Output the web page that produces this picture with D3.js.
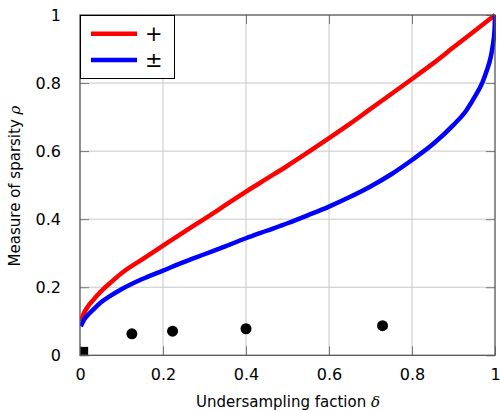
<!DOCTYPE html>
<html>
<head>
<meta charset="utf-8">
<script src="https://cdn.jsdelivr.net/npm/d3@7"></script>
<style>
  html, body { margin: 0; padding: 0; background: #fff; }
  svg { display: block; }
  text { font-family: "DejaVu Sans", sans-serif; fill: #000; }
</style>
</head>
<body>
<svg id="chart" width="500" height="411"></svg>
<script>
// ---- data ----
const deltaPlus = [0.002, 0.01, 0.02, 0.03, 0.05, 0.075, 0.1, 0.15, 0.2, 0.25, 0.3, 0.35, 0.4, 0.45, 0.5, 0.55, 0.6, 0.65, 0.7, 0.75, 0.8, 0.85, 0.9, 0.95, 1.0];
const rhoPlus   = [0.10, 0.125, 0.145, 0.16, 0.187, 0.215, 0.241, 0.282, 0.322, 0.362, 0.401, 0.441, 0.481, 0.519, 0.557, 0.597, 0.638, 0.68, 0.724, 0.768, 0.812, 0.857, 0.905, 0.952, 1.0];
const deltaPM   = [0.002, 0.01, 0.02, 0.03, 0.05, 0.075, 0.1, 0.15, 0.2, 0.25, 0.3, 0.35, 0.4, 0.45, 0.5, 0.55, 0.6, 0.65, 0.7, 0.75, 0.8, 0.85, 0.9, 0.93, 0.95, 0.97, 0.98, 0.99, 0.995, 0.999, 1.0];
const rhoPM     = [0.085, 0.105, 0.12, 0.132, 0.155, 0.176, 0.194, 0.224, 0.249, 0.274, 0.297, 0.32, 0.344, 0.366, 0.388, 0.412, 0.437, 0.465, 0.496, 0.532, 0.574, 0.62, 0.677, 0.718, 0.757, 0.803, 0.836, 0.878, 0.913, 0.958, 1.0];
const dotDelta  = [0.125, 0.223, 0.40, 0.729];
const dotRho    = [0.063, 0.071, 0.078, 0.087];
const squareDelta = [0.01];
const squareRho   = [0.013];
const tickValues = [0, 0.2, 0.4, 0.6, 0.8, 1];
const tickLabels = ["0", "0.2", "0.4", "0.6", "0.8", "1"];
const legendLabels = ["+", "±"];
const seriesColors = ["#ff0000", "#0000ff"];
const xTitle = "Undersampling faction ";
const yTitle = "Measure of sparsity ";

// ---- layout ----
const L = 80, R = 495, T = 15, B = 355.3;
const svg = d3.select("#chart");
const x = d3.scaleLinear().domain([0, 1]).range([L, R]);
const y = d3.scaleLinear().domain([0, 1]).range([B, T]);

// grid
const grid = svg.append("g");
grid.selectAll("line.vx").data(tickValues.slice(1, -1)).join("line")
  .attr("x1", d => x(d)).attr("x2", d => x(d)).attr("y1", T).attr("y2", B)
  .attr("stroke", "#c8c8c8").attr("stroke-width", 1);
grid.selectAll("line.hy").data(tickValues.slice(1, -1)).join("line")
  .attr("y1", d => y(d)).attr("y2", d => y(d)).attr("x1", L).attr("x2", R)
  .attr("stroke", "#c8c8c8").attr("stroke-width", 1);

// axes with inward ticks
const tl = 9;
const fmt = d => tickLabels[tickValues.indexOf(d)];
const axB = svg.append("g").attr("transform", `translate(0,${B})`)
  .call(d3.axisBottom(x).tickValues(tickValues).tickFormat(fmt).tickSizeInner(-tl).tickSizeOuter(0).tickPadding(13));
const axT = svg.append("g").attr("transform", `translate(0,${T})`)
  .call(d3.axisTop(x).tickValues(tickValues).tickFormat("").tickSizeInner(-tl).tickSizeOuter(0));
const axL = svg.append("g").attr("transform", `translate(${L},0)`)
  .call(d3.axisLeft(y).tickValues(tickValues).tickFormat(fmt).tickSizeInner(-tl).tickSizeOuter(0).tickPadding(19));
const axR = svg.append("g").attr("transform", `translate(${R},0)`)
  .call(d3.axisRight(y).tickValues(tickValues).tickFormat("").tickSizeInner(-tl).tickSizeOuter(0));
[axB, axT, axL, axR].forEach(a => {
  a.select(".domain").remove();
  a.selectAll(".tick line").attr("stroke", "#777").attr("stroke-width", 1);
  a.selectAll(".tick text").attr("font-size", 16).attr("font-family", "DejaVu Sans, sans-serif").attr("fill", "#111");
});

// curves
svg.append("clipPath").attr("id", "clip").append("rect")
  .attr("x", L).attr("y", T - 3).attr("width", R - L + 1).attr("height", B - T + 3);
const line = d3.line().x(d => x(d[0])).y(d => y(d[1])).curve(d3.curveMonotoneX);
const plusData = deltaPlus.map((d, i) => [d, rhoPlus[i]]);
const pmData = deltaPM.map((d, i) => [d, rhoPM[i]]);
const curves = svg.append("g").attr("clip-path", "url(#clip)");
curves.append("path").datum(plusData).attr("d", line)
  .attr("fill", "none").attr("stroke", seriesColors[0]).attr("stroke-width", 4.5);
curves.append("path").datum(pmData).attr("d", line)
  .attr("fill", "none").attr("stroke", seriesColors[1]).attr("stroke-width", 4.5);

// dots
svg.append("g").selectAll("circle").data(dotDelta).join("circle")
  .attr("cx", d => x(d)).attr("cy", (d, i) => y(dotRho[i])).attr("r", 5.5).attr("fill", "#000");
svg.append("g").selectAll("rect").data(squareDelta).join("rect")
  .attr("x", d => x(d) - 4).attr("y", (d, i) => y(squareRho[i]) - 4)
  .attr("width", 8).attr("height", 8).attr("fill", "#000");

// frame
svg.append("rect").attr("x", L).attr("y", T).attr("width", R - L).attr("height", B - T)
  .attr("fill", "none").attr("stroke", "#555").attr("stroke-width", 1.3);

// legend
const lg = svg.append("g");
lg.append("rect").attr("x", L + 0.5).attr("y", T + 0.5).attr("width", 94).attr("height", 63)
  .attr("fill", "#fff").attr("stroke", "#000").attr("stroke-width", 1);
legendLabels.forEach((lab, i) => {
  const yy = 33.7 + i * 26.3;
  lg.append("line").attr("x1", 91).attr("x2", 137).attr("y1", yy).attr("y2", yy)
    .attr("stroke", seriesColors[i]).attr("stroke-width", 4.5);
  lg.append("text").attr("x", 145).attr("y", yy).attr("dy", "0.33em")
    .attr("font-size", 21).attr("font-family", "Liberation Serif, serif").text(lab);
});

// axis titles
svg.append("text").attr("x", 288).attr("y", 407).attr("text-anchor", "middle").attr("font-size", 15)
  .attr("fill", "#111")
  .text(xTitle).append("tspan").attr("font-family", "DejaVu Serif, serif").attr("font-style", "italic").text("δ");
svg.append("text").attr("transform", "translate(20,186) rotate(-90)").attr("text-anchor", "middle").attr("font-size", 15)
  .attr("fill", "#111")
  .text(yTitle).append("tspan").attr("font-family", "DejaVu Serif, serif").attr("font-style", "italic").text("ρ");
</script>
</body>
</html>
